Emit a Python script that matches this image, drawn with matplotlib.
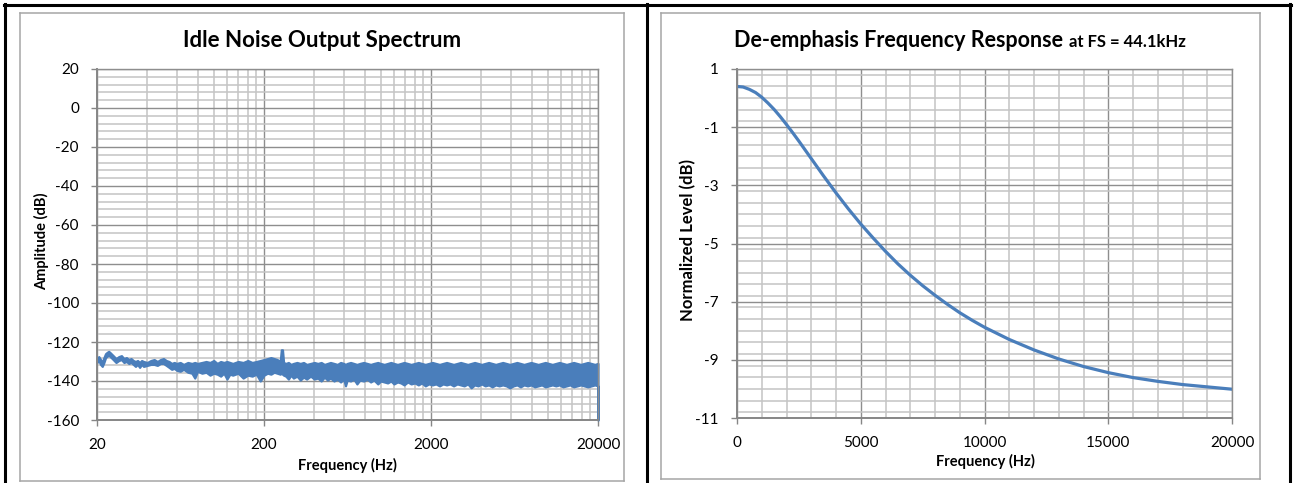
import numpy as np
import matplotlib
matplotlib.use('Agg')
import matplotlib.pyplot as plt
from matplotlib.lines import Line2D
from matplotlib.ticker import FixedLocator, NullFormatter, MultipleLocator

plt.rcParams['font.family'] = ['Lato', 'DejaVu Sans']
plt.rcParams['axes.unicode_minus'] = False

W, H = 1294, 483

#==================================================
# Idle noise spectrum, band (Hz, upper dB, lower dB)

noise_freq = [20, 20.5, 21, 21.5, 22, 22.5, 23, 23.5, 24, 25, 26, 27, 28, 29, 30, 31, 32, 33,
              34, 35, 36, 37, 38, 40, 42, 44, 46, 48, 50, 52, 54, 56, 58, 60, 63, 66, 70, 74,
              77, 80, 85, 90, 95, 100, 105, 110, 115, 120, 125, 130, 140, 150, 160, 170, 180,
              190, 200, 210, 220, 230, 240, 250, 254, 258, 262, 270, 280, 290, 300, 315, 330,
              345, 360, 380, 400, 420, 440, 460, 480, 500, 525, 550, 575, 600, 615, 630, 660,
              690, 720, 750, 790, 830, 870, 910, 960, 1000, 1050, 1100, 1150, 1200, 1260, 1320,
              1380, 1450, 1520, 1600, 1680, 1760, 1850, 1940, 2040, 2140, 2250, 2360, 2480,
              2600, 2730, 2870, 3010, 3160, 3320, 3480, 3650, 3830, 4020, 4220, 4430, 4650,
              4880, 5120, 5380, 5650, 5930, 6230, 6540, 6870, 7210, 7570, 7950, 8350, 8770,
              9210, 9670, 10150, 10660, 11190, 11750, 12340, 12960, 13610, 14290, 15000, 15750,
              16540, 17370, 18240, 19150, 19950, 20000]
noise_hi = [-128.5, -127.5, -129, -130.5, -128, -126, -125.3, -124.8, -125.5, -127, -128.5,
            -127.5, -127, -128.5, -128, -129, -128.5, -129.5, -130, -129.5, -130.5, -129.5,
            -130, -130.5, -129.5, -129, -130, -129, -128.5, -129.5, -130, -131, -130.5, -131,
            -130.5, -131.5, -130.5, -131, -130.5, -131, -130.5, -130, -130.5, -129.5, -131,
            -130, -130.5, -130, -130.5, -131, -130, -130.5, -129.5, -130.5, -130, -129.5, -129,
            -128.5, -128, -128.5, -129, -130, -124, -124, -130.5, -131, -130.5, -131.5, -131,
            -130.5, -131, -130.5, -131.5, -131, -130.5, -131, -130.5, -131.5, -131, -130.5,
            -131, -131.5, -130.5, -131, -131.5, -131, -130.5, -131, -131.5, -131, -130.5, -131,
            -131.5, -131, -130.5, -131, -131.5, -131, -130.5, -131, -131.5, -131, -130.5, -131,
            -131.5, -131, -130.5, -131, -131.5, -131, -130.5, -131, -131.5, -131, -130.5, -131,
            -131.5, -131, -130.5, -131, -131.5, -131, -130.5, -131, -131.5, -131, -130.5, -131,
            -131.5, -131, -130.5, -131, -131.5, -131, -130.5, -131, -131.5, -131, -130.5, -131,
            -131.5, -131, -130.5, -131, -131.5, -131, -130.5, -131, -131.5, -131, -130.5, -131,
            -131.5, -131, -130.5, -131, -131.5, -131, -131]
noise_lo = [-130.5, -129.5, -131.5, -132.5, -130.5, -128, -127.3, -126.8, -127.5, -129, -130.5,
            -129.5, -129, -130.5, -130, -131, -130.5, -131.5, -132.5, -131.5, -133, -131.5,
            -132.5, -132, -131.5, -131.5, -132, -131, -131, -132, -133, -134, -133.5, -134.5,
            -135, -134, -135.5, -136, -138.5, -135, -136, -135.5, -137, -136, -136.5, -137.5,
            -136, -139, -136.5, -137, -136, -138.5, -137, -137.5, -136.5, -140, -137, -136,
            -136.5, -135.5, -136, -136.5, -136, -136.5, -137, -137.5, -139, -137, -138.5,
            -137.5, -139.5, -138, -139, -137.5, -139, -138.5, -140, -138, -139.5, -138.5, -140,
            -139, -140.5, -139, -142.5, -139.5, -140, -139, -141.5, -139.5, -140, -139, -140.5,
            -139.5, -141.5, -140, -140.5, -141, -140, -141.5, -140.5, -141, -142, -140.5,
            -141.5, -141, -142, -141, -142.5, -141.5, -142, -141.5, -142.5, -141.5, -142,
            -141.5, -142.5, -141.5, -142, -142.5, -141.5, -143.5, -142, -142.5, -141.5, -142.5,
            -142, -143, -142, -142.5, -142, -142.5, -143.5, -142.5, -142, -143, -142, -142.5,
            -142, -143, -142.5, -142, -143, -142.5, -142, -142.5, -142, -143, -142.5, -142,
            -143, -142.5, -142, -142.5, -143, -142.5, -142, -142.5, -160]

noise_xticks = [20, 200, 2000, 20000]

#==================================================
# De-emphasis response at FS = 44.1 kHz

deemph_freq = [0, 250, 500, 750, 1000, 1250, 1500, 1750, 2000, 2250, 2500, 3000, 3500, 4000,
               4500, 5000, 5500, 6000, 6500, 7000, 7500, 8000, 8500, 9000, 9500, 10000, 11000,
               12000, 13000, 14000, 15000, 16000, 17000, 18000, 19000, 20000]
deemph_db = [0.40, 0.38, 0.30, 0.19, 0.03, -0.17, -0.39, -0.64, -0.91, -1.19, -1.48, -2.08,
             -2.68, -3.26, -3.81, -4.33, -4.81, -5.27, -5.70, -6.09, -6.45, -6.78, -7.09,
             -7.38, -7.64, -7.88, -8.30, -8.66, -8.97, -9.23, -9.44, -9.61, -9.74, -9.85,
             -9.93, -10.01]

BLUE = '#4a7ebb'
MAJ = '#8e8e8e'
MIN = '#c4c4c4'
AXC = '#868686'


def px(x):
	return x / W


def py(y):
	return 1 - y / H


def style_axes(ax):
	ax.set_axisbelow(True)
	ax.grid(which='minor', color=MIN, lw=1.1)
	ax.grid(which='major', color=MAJ, lw=1.0)
	for s in ['top', 'right']:
		ax.spines[s].set_color(MAJ)
		ax.spines[s].set_linewidth(1.0)
	for s in ['left', 'bottom']:
		ax.spines[s].set_color(AXC)
		ax.spines[s].set_linewidth(1.4)
	ax.tick_params(which='major', direction='out', length=4, width=1, color=AXC,
		labelsize=11, pad=9, labelcolor='black')
	ax.tick_params(which='minor', length=0)


fig = plt.figure(figsize=(W / 100, H / 100), dpi=100)

# ---- left chart
ax1 = fig.add_axes([px(97), py(420), px(598) - px(97), py(69) - py(420)])
ax1.fill_between(noise_freq, noise_lo, noise_hi, color=BLUE, edgecolor=BLUE, lw=1.6,
	clip_on=False)
ax1.set_xscale('log')
ax1.set_xlim(20, 20000)
ax1.set_ylim(-160, 20)
ax1.xaxis.set_major_locator(FixedLocator(noise_xticks))
ax1.set_xticklabels([str(t) for t in noise_xticks])
ax1.xaxis.set_minor_locator(FixedLocator([k * t for t in noise_xticks[:-1] for k in range(2, 10)]))
ax1.xaxis.set_minor_formatter(NullFormatter())
ax1.yaxis.set_major_locator(MultipleLocator(20))
ax1.yaxis.set_minor_locator(MultipleLocator(4))
style_axes(ax1)

# ---- right chart
ax2 = fig.add_axes([px(737), py(418), px(1232) - px(737), py(69) - py(418)])
ax2.plot(deemph_freq, deemph_db, color=BLUE, lw=2.3, solid_capstyle='round')
ax2.set_xlim(0, 20000)
ax2.set_ylim(-11, 1)
ax2.xaxis.set_major_locator(MultipleLocator(5000))
ax2.xaxis.set_minor_locator(MultipleLocator(1000))
ax2.set_yticks(np.arange(-11, 2, 2))
ax2.yaxis.set_minor_locator(MultipleLocator(0.4))
style_axes(ax2)

# ---- titles and axis labels
fig.text(px(322), py(47), 'Idle Noise Output Spectrum', size=16, weight='bold',
	ha='center', va='baseline')
fig.text(px(42), py(241), 'Amplitude (dB)', size=10.5, weight='bold', rotation=90,
	ha='center', va='center')
fig.text(px(347), py(465), 'Frequency (Hz)', size=10.5, weight='bold', ha='center', va='center')

t1 = fig.text(0, py(47), 'De-emphasis Frequency Response', size=15.5, weight='bold', va='baseline')
t2 = fig.text(0, py(47), 'at FS = 44.1kHz', size=12, weight='bold', va='baseline')
fig.text(px(688), py(240), 'Normalized Level (dB)', size=12, weight='bold', rotation=90,
	ha='center', va='center')
fig.text(px(985), py(461), 'Frequency (Hz)', size=10.5, weight='bold', ha='center', va='center')

fig.canvas.draw()
r = fig.canvas.get_renderer()
w1 = t1.get_window_extent(r).width
w2 = t2.get_window_extent(r).width
gap = 6
x0 = 960 - (w1 + gap + w2) / 2
t1.set_x(px(x0))
t2.set_x(px(x0 + w1 + gap))

# ---- chart frames (light gray) and table borders (black)
for x0_, x1_, y0_, y1_ in [(20, 20, 12.5, 481), (624, 624, 12.5, 481), (20, 624, 12.5, 12.5),
		(20, 624, 481, 481), (661, 661, 12.5, 479), (1260, 1260, 12.5, 479),
		(661, 1260, 12.5, 12.5), (661, 1260, 479, 479)]:
	fig.add_artist(Line2D([px(x0_), px(x1_)], [py(y0_), py(y1_)], color='#a6a6a6', lw=1.1))

for x0_, x1_, y0_, y1_ in [(3.5, 1291, 5, 5), (5, 5, 3.5, 483), (646.5, 646.5, 3.5, 483),
		(1289.5, 1289.5, 3.5, 483)]:
	fig.add_artist(Line2D([px(x0_), px(x1_)], [py(y0_), py(y1_)], color='black', lw=2.2))

fig.savefig('out.png', dpi=100)
